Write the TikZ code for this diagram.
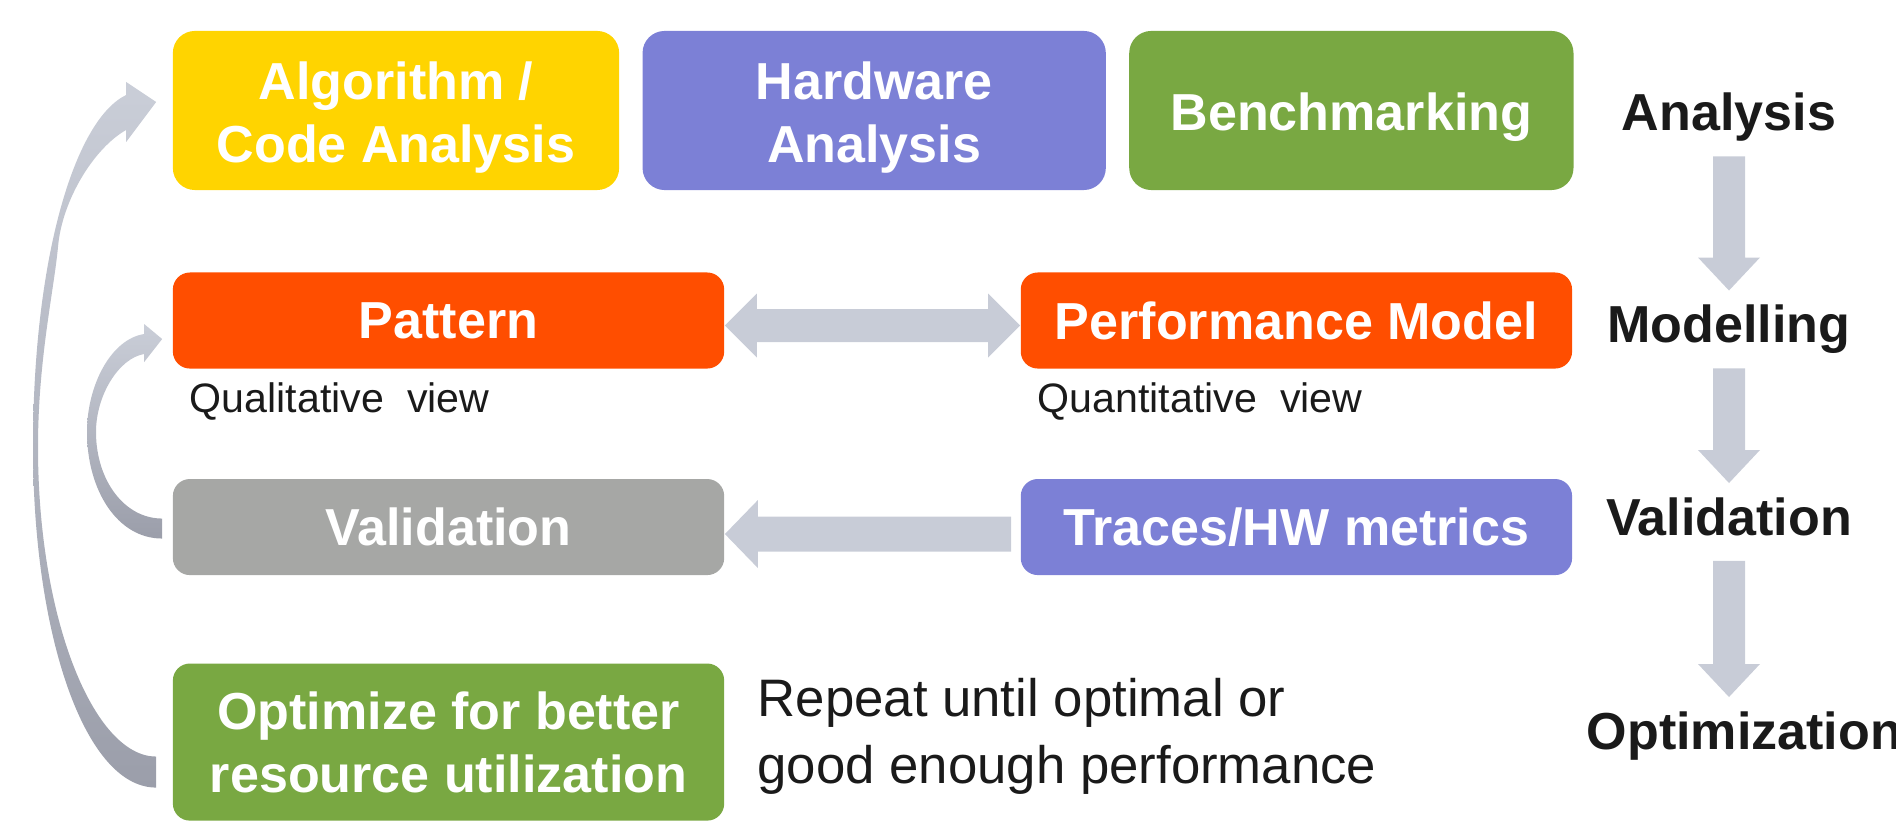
\documentclass[tikz,border=0pt]{standalone}
\usepackage{fontspec}
\setmainfont{Liberation Sans}
\usepackage{tikz}
\usetikzlibrary{positioning, calc}

\definecolor{codeyellow}{HTML}{FFD400}
\definecolor{hwpurple}{HTML}{7C80D6}
\definecolor{benchgreen}{HTML}{79A842}
\definecolor{modelorange}{HTML}{FF4E00}
\definecolor{validgray}{HTML}{A6A7A5}
\definecolor{arrowfill}{HTML}{C8CCD7}
\definecolor{arrowlight}{HTML}{CACED8}
\definecolor{arrowdark}{HTML}{9B9EAA}
\definecolor{labelblack}{HTML}{1A1A1A}

% strut that pushes the text of the top boxes down a little
\newcommand{\toppad}{\rule{0pt}{0.52cm}}

% vertical fat arrow between two stage labels
\newcommand{\stagearrow}[2]{%
  \fill[fatarrow] ($(#1.south)+(-16,0)$) -- ($(#1.south |- #2.north)+(-16,-33)$) -- ++(-15,0)
    -- (#1.south |- #2.north) -- ++(31,-33) -- ++(-15,0) -- ($(#1.south)+(16,0)$) -- cycle;}

\begin{document}
\begin{tikzpicture}[
        x=0.01cm, y=-0.01cm,
        every node/.style={font=\fontsize{14.8}{17.9}\selectfont\bfseries},
        box/.style={rounded corners=0.17cm, minimum width=5.51cm, text=white, align=center, inner sep=0},
        topbox/.style={box, rounded corners=0.22cm, minimum height=1.59cm},
        flatbox/.style={box, minimum height=0.96cm},
        yellowbox/.style={topbox, fill=codeyellow, minimum width=4.46cm},
        purplebox/.style={topbox, fill=hwpurple, minimum width=4.63cm},
        greenbox/.style={topbox, fill=benchgreen, minimum width=4.44cm},
        orangebox/.style={flatbox, fill=modelorange},
        graybox/.style={flatbox, fill=validgray},
        stage/.style={text=labelblack, inner xsep=0, inner ysep=0.14cm, text height=10.7pt, text depth=3.1pt},
        note/.style={font=\fontsize{11.7}{14}\selectfont, text=labelblack, inner sep=0},
        fatarrow/.style={fill=arrowfill}
    ]
    \useasboundingbox (0,0) rectangle (1896,822);

    % Boxes
    \node[yellowbox] (algo) at (396,110.5) {\toppad Algorithm /\\Code Analysis};
    \node[purplebox, right=0.22cm of algo] (hardware) {\toppad Hardware\\Analysis};
    \node[greenbox, right=0.22cm of hardware] (bench) {\toppad Benchmarking};
    \node[orangebox, below right=0.81cm and 0cm of algo.south west] (pattern) {Pattern};
    \node[orangebox, right=2.95cm of pattern] (perf) {Performance Model};
    \node[graybox, below=1.09cm of pattern] (valid) {Validation};
    \node[box, fill=hwpurple, minimum height=0.96cm, below=1.09cm of perf] (traces) {Traces/HW metrics};
    \node[box, fill=benchgreen, minimum height=1.57cm, below=0.87cm of valid] (optimize) {Optimize for better\\resource utilization};

    % Notes
    \node[note, below right=0.13cm and 0.17cm of pattern.south west] (qualview) {Qualitative\ \ view};
    \node[note, below right=0.13cm and 0.17cm of perf.south west] (quantview) {Quantitative\ \ view};
    \node[note, font=\fontsize{15}{19}\selectfont, align=left, right=0.32cm of optimize, yshift=0.06cm] (repeat) {Repeat until optimal or\\good enough performance};

    % Stages
    \node[stage] (lblana) at (1729,117.5) {Analysis};
    \node[stage] (lblmod) at (1729,329.5) {Modelling};
    \node[stage] (lblval) at (1729,522) {Validation};
    \node[stage, anchor=west] (lblopt) at (1586,736) {Optimization};

    % Arrows
    \stagearrow{lblana}{lblmod}
    \stagearrow{lblmod}{lblval}
    \stagearrow{lblval}{lblopt}

    \fill[fatarrow] ($(pattern.east)+(0,5)$) -- ++(32,-32) -- ++(0,15.5) -- ($(perf.west)+(-32,-11.5)$)
        -- ++(0,-15.5) -- ($(perf.west)+(0,5)$) -- ++(-32,32) -- ++(0,-15.5) -- ($(pattern.east)+(32,21.5)$)
        -- ++(0,15.5) -- cycle;

    \fill[fatarrow] ($(traces.west)+(-9,-10.5)$) -- ($(valid.east)+(33,-10.5)$) -- ++(0,-16.5)
        -- ($(valid.east)+(0,7)$) -- ($(valid.east)+(33,41)$) -- ++(0,-16.5) -- ($(traces.west)+(-9,24.5)$) -- cycle;

    % Curved arrows back up
    \coordinate (oa) at ($(optimize.west)+(-16,45.5)$);
    \coordinate (ob) at ($(optimize.west)+(-16,14.5)$);
    \coordinate (oh) at ($(algo.west)+(-16,-8.5)$);
    \shade[top color=arrowlight, bottom color=arrowdark]
        (oa) .. controls +(-72,0) and +(0,186) .. (33,447)
        .. controls +(0,-187) and +(-52,25) .. ($(oh)+(-30,-7)$)
        -- ($(oh)+(-30,-20)$) -- (oh) -- ($(oh)+(-30,40)$) -- ($(oh)+(-30,28)$)
        .. controls +(-32,18) and +(4,-47) .. (58,247)
        .. controls +(-4,43) and +(0,-87) .. (38,447)
        .. controls +(0,173) and +(-62,0) .. (ob) -- cycle;

    \coordinate (ia) at ($(valid.west)+(-10,11.5)$);
    \coordinate (ib) at ($(valid.west)+(-10,-8.5)$);
    \coordinate (ih) at ($(pattern.west)+(-10,18.5)$);
    \shade[top color=arrowlight, bottom color=arrowdark]
        (ia) .. controls +(-45,0) and +(0,58) .. (87,432)
        .. controls +(0,-47) and +(-33,5) .. ($(ih)+(-18,-5)$)
        -- ($(ih)+(-18,-15)$) -- (ih) -- ($(ih)+(-18,23)$) -- ($(ih)+(-18,15)$)
        .. controls +(-25,4) and +(0,-37) .. (96,432)
        .. controls +(0,48) and +(-38,0) .. (ib) -- cycle;

\end{tikzpicture}
\end{document}
